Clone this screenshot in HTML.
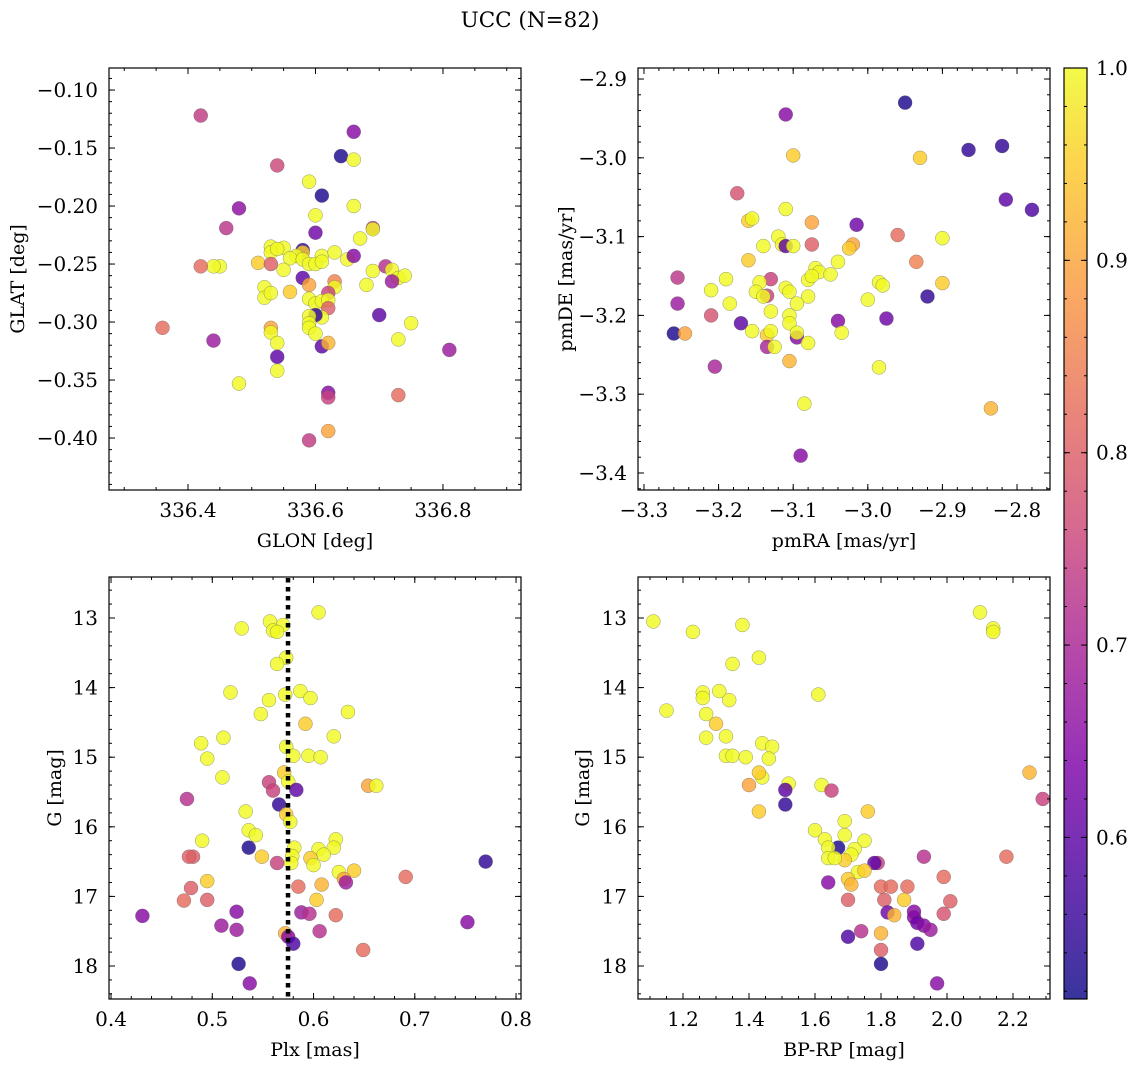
<!DOCTYPE html>
<html><head><meta charset="utf-8">
<style>
html,body{margin:0;padding:0;background:#fff;}
svg text{font-family:"DejaVu Serif","Liberation Serif",serif;fill:#000;}
</style></head>
<body>
<svg id="chart" width="1136" height="1067" viewBox="0 0 1136 1067" xmlns="http://www.w3.org/2000/svg">
<text x="530" y="27" font-size="21.5" text-anchor="middle">UCC (N=82)</text>
</svg>
<script>
// Panel 1: GLON, GLAT, probability
const p1Glon=[336.42,336.66,336.64,336.66,336.54,336.59,336.61,336.48,336.66,336.60,336.46,336.69,336.69,336.67,336.60,336.53,336.53,336.55,336.54,336.58,336.58,336.57,336.56,336.58,336.59,336.61,336.63,336.65,336.60,336.61,336.45,336.44,336.42,336.51,336.53,336.55,336.66,336.69,336.71,336.72,336.73,336.74,336.72,336.68,336.58,336.59,336.63,336.63,336.62,336.56,336.52,336.52,336.53,336.59,336.60,336.61,336.62,336.62,336.61,336.60,336.59,336.59,336.70,336.75,336.53,336.53,336.59,336.60,336.73,336.44,336.36,336.54,336.61,336.62,336.81,336.54,336.54,336.48,336.62,336.62,336.73,336.62,336.59];
const p1Glat=[-0.122,-0.136,-0.157,-0.160,-0.165,-0.179,-0.191,-0.202,-0.200,-0.208,-0.219,-0.219,-0.220,-0.228,-0.223,-0.235,-0.240,-0.236,-0.237,-0.238,-0.240,-0.243,-0.245,-0.246,-0.250,-0.243,-0.240,-0.246,-0.250,-0.248,-0.252,-0.252,-0.252,-0.249,-0.250,-0.255,-0.243,-0.256,-0.252,-0.255,-0.262,-0.260,-0.265,-0.268,-0.262,-0.268,-0.265,-0.270,-0.275,-0.274,-0.270,-0.279,-0.275,-0.280,-0.284,-0.282,-0.281,-0.288,-0.296,-0.294,-0.295,-0.301,-0.294,-0.301,-0.305,-0.309,-0.305,-0.310,-0.315,-0.316,-0.305,-0.318,-0.321,-0.318,-0.324,-0.330,-0.342,-0.353,-0.361,-0.365,-0.363,-0.394,-0.402];
const p1Prob=[.74,.65,.53,1,.76,1,.53,.66,1,1,.73,.73,1,1,.62,1,1,1,1,.55,.95,1,1,1,1,1,1,1,1,1,1,1,.82,.95,.8,1,.65,1,.72,1,1,1,.68,1,.6,.9,.85,1,.75,.95,1,1,1,1,1,1,1,.8,1,.55,1,1,.6,1,.9,1,1,1,1,.68,.82,1,.6,.92,.68,.6,1,1,.65,.75,.82,.9,.74];
// Panel 2: pmRA, pmDE, probability
const p2Pmra=[-2.95,-3.11,-2.865,-2.82,-3.10,-2.93,-3.175,-2.815,-2.78,-3.11,-3.16,-3.155,-3.075,-3.015,-2.96,-2.90,-3.12,-3.115,-3.11,-3.10,-3.14,-3.075,-3.02,-3.025,-3.16,-2.935,-3.04,-3.07,-3.065,-3.08,-3.075,-3.05,-3.255,-3.19,-3.13,-3.145,-2.985,-2.98,-2.90,-3.21,-3.15,-3.135,-3.11,-3.105,-3.14,-3.08,-3.00,-2.92,-3.255,-3.185,-3.095,-3.13,-3.17,-3.21,-3.105,-3.105,-3.04,-2.975,-3.155,-3.135,-3.13,-3.095,-3.095,-3.035,-3.26,-3.245,-3.08,-3.135,-3.125,-3.205,-3.105,-2.985,-3.085,-2.835,-3.09];
const p2Pmde=[-2.93,-2.945,-2.99,-2.985,-2.997,-3.00,-3.045,-3.053,-3.066,-3.065,-3.08,-3.077,-3.082,-3.085,-3.098,-3.102,-3.10,-3.11,-3.112,-3.112,-3.112,-3.11,-3.11,-3.115,-3.13,-3.132,-3.132,-3.14,-3.145,-3.155,-3.150,-3.148,-3.152,-3.154,-3.154,-3.158,-3.158,-3.162,-3.159,-3.168,-3.17,-3.175,-3.165,-3.170,-3.176,-3.176,-3.18,-3.176,-3.185,-3.185,-3.185,-3.195,-3.21,-3.20,-3.20,-3.21,-3.207,-3.204,-3.22,-3.225,-3.22,-3.228,-3.222,-3.222,-3.223,-3.223,-3.235,-3.24,-3.24,-3.265,-3.258,-3.266,-3.312,-3.318,-3.378];
const p2Prob=[.53,.65,.55,.55,.95,.95,.78,.6,.58,1,.95,1,.9,.62,.82,1,1,1,.6,1,1,.8,.9,.95,.95,.85,1,1,1,1,1,1,.73,1,.75,1,1,1,.95,1,1,.75,1,1,1,1,1,.55,.68,1,1,1,.6,.78,1,1,.65,.62,1,.95,1,.65,1,1,.53,.9,1,.7,1,.7,.92,1,1,.92,.65];
// Panel 3: Plx, G, probability
const p3Plx=[0.605,0.557,0.570,0.529,0.560,0.564,0.573,0.564,0.518,0.587,0.572,0.597,0.556,0.548,0.634,0.592,0.511,0.620,0.489,0.573,0.495,0.580,0.595,0.607,0.510,0.571,0.575,0.556,0.560,0.583,0.654,0.662,0.475,0.566,0.533,0.573,0.577,0.536,0.543,0.490,0.622,0.536,0.581,0.605,0.620,0.610,0.579,0.597,0.481,0.477,0.549,0.564,0.578,0.600,0.625,0.640,0.630,0.632,0.770,0.495,0.585,0.608,0.479,0.691,0.472,0.495,0.603,0.524,0.588,0.596,0.622,0.431,0.509,0.524,0.606,0.752,0.572,0.575,0.580,0.649,0.526,0.537];
const p3G=[12.92,13.05,13.10,13.15,13.18,13.20,13.57,13.66,14.07,14.05,14.10,14.15,14.18,14.38,14.35,14.52,14.72,14.70,14.80,14.85,15.02,14.98,14.98,15.00,15.29,15.22,15.35,15.36,15.48,15.47,15.41,15.41,15.60,15.68,15.78,15.82,15.93,16.05,16.12,16.20,16.18,16.30,16.30,16.32,16.30,16.40,16.42,16.45,16.43,16.43,16.43,16.52,16.52,16.55,16.65,16.63,16.75,16.80,16.50,16.78,16.86,16.83,16.88,16.72,17.06,17.05,17.05,17.22,17.23,17.25,17.27,17.28,17.42,17.48,17.50,17.37,17.53,17.58,17.68,17.77,17.97,18.25];
const p3Prob=[1,1,1,1,1,1,1,1,1,1,1,1,1,1,1,.95,1,1,1,1,1,1,1,1,1,.95,1,.75,.75,.6,.9,1,.72,.55,1,.95,1,1,1,1,1,.53,1,1,1,1,1,.95,.8,.8,.95,.75,1,1,1,.95,.9,.68,.55,.95,.82,.92,.8,.82,.82,.8,.95,.65,.68,.72,.82,.65,.68,.68,.72,.65,.92,.65,.58,.82,.53,.65];
const plxMedian=0.5748;
// Panel 4: BP-RP, G, probability
const p4Bprp=[1.11,1.23,1.38,2.10,2.14,2.14,1.43,1.35,1.15,1.26,1.26,1.31,1.34,1.61,1.27,1.30,1.27,1.33,1.44,1.47,1.33,1.35,1.39,1.46,1.44,1.43,1.52,1.40,1.51,1.62,1.65,2.25,2.29,1.51,1.43,1.76,1.69,1.60,1.69,1.63,1.75,1.67,1.64,1.72,1.71,1.64,1.69,1.66,1.79,1.78,1.93,2.18,1.73,1.75,1.70,1.64,1.71,1.80,1.88,1.83,1.99,1.87,1.70,1.81,2.01,1.82,1.90,1.90,1.99,1.84,1.91,1.93,1.95,1.74,1.70,1.80,1.80,1.91,1.80,1.97];
const p4G=[13.05,13.20,13.10,12.92,13.15,13.20,13.57,13.66,14.33,14.07,14.15,14.05,14.18,14.10,14.38,14.52,14.72,14.70,14.80,14.85,14.98,14.98,15.00,15.02,15.29,15.22,15.38,15.40,15.47,15.40,15.48,15.22,15.60,15.68,15.78,15.78,15.92,16.05,16.12,16.18,16.20,16.30,16.30,16.32,16.40,16.45,16.48,16.45,16.52,16.52,16.43,16.43,16.65,16.63,16.75,16.80,16.83,16.86,16.86,16.86,16.72,17.05,17.05,17.05,17.07,17.23,17.22,17.30,17.25,17.27,17.38,17.42,17.48,17.50,17.58,17.53,17.77,17.68,17.97,18.25];
const p4Prob=[1,1,1,1,1,1,1,1,1,1,1,1,1,1,1,.95,1,1,1,1,1,1,1,1,1,.95,1,.9,.6,1,.75,.92,.75,.55,.95,.95,1,1,1,1,1,.53,1,1,1,1,.95,1,.75,.6,.72,.82,1,.95,.95,.65,.92,.82,.82,.82,.82,.95,.8,.8,.8,.62,.65,.65,.78,.92,.62,.65,.68,.72,.58,.92,.8,.58,.53,.65];
// tick labels
const p1XTicks=[336.4,336.6,336.8];
const p1YTicks=[-0.10,-0.15,-0.20,-0.25,-0.30,-0.35,-0.40];
const p2XTicks=[-3.3,-3.2,-3.1,-3.0,-2.9,-2.8];
const p2YTicks=[-2.9,-3.0,-3.1,-3.2,-3.3,-3.4];
const p3XTicks=[0.4,0.5,0.6,0.7,0.8];
const gTicks=[13,14,15,16,17,18];
const p4XTicks=[1.2,1.4,1.6,1.8,2.0,2.2];
const cbTicks=[0.6,0.7,0.8,0.9,1.0];
const cbMin=0.516, cbMax=1.0;

const TF=20, LF=19;
const svg=document.getElementById('chart');
const NS='http://www.w3.org/2000/svg';
function mk(tag,attrs,parent){const e=document.createElementNS(NS,tag);for(const k in attrs)e.setAttribute(k,attrs[k]);(parent||svg).appendChild(e);return e;}
const stops=[[0,[13,8,135]],[0.13,[75,3,161]],[0.25,[125,3,168]],[0.38,[168,34,150]],[0.5,[203,70,121]],[0.63,[229,107,93]],[0.75,[248,148,65]],[0.88,[253,195,40]],[1,[240,249,33]]];
function plasma(t){t=Math.max(0,Math.min(1,t));for(let i=1;i<stops.length;i++){if(t<=stops[i][0]){const a=stops[i-1],b=stops[i];const f=(t-a[0])/(b[0]-a[0]);const c=a[1].map((v,j)=>Math.round(v+(b[1][j]-v)*f));return `rgb(${c[0]},${c[1]},${c[2]})`;}}return 'rgb(240,249,33)';}
function fmt(v,d){return (v<0?'\u2212':'')+Math.abs(v).toFixed(d);}

function panel(name,box,xd,yd,xs,ys,ps,xt,yt,xdec,ydec,xminor,yminor,xlabel,ylabel,lx){
  const g=mk('g',{});
  
  
  const X=v=>box.x0+(v-xd[0])/(xd[1]-xd[0])*(box.x1-box.x0);
  const Y=v=>box.y0+(v-yd[0])/(yd[1]-yd[0])*(box.y1-box.y0);
  for(let i=0;i<xs.length;i++){
    const c=mk('circle',{cx:X(xs[i]),cy:Y(ys[i]),r:7,fill:plasma((ps[i]-cbMin)/(cbMax-cbMin)),'fill-opacity':0.82,stroke:'#555','stroke-width':0.5,'stroke-opacity':0.6},g);
    
    
  }
  const fr=mk('rect',{x:box.x0,y:box.y0,width:box.x1-box.x0,height:box.y1-box.y0,fill:'none',stroke:'#000','stroke-width':1.2},g);
  
  
  const lo=Math.min(xd[0],xd[1]),hi=Math.max(xd[0],xd[1]);
  for(let v=Math.ceil(lo/xminor)*xminor;v<=hi;v+=xminor){const x=X(v);mk('line',{x1:x,x2:x,y1:box.y1,y2:box.y1-3,stroke:'#000','stroke-width':1},g);mk('line',{x1:x,x2:x,y1:box.y0,y2:box.y0+3,stroke:'#000','stroke-width':1},g);}
  const ylo=Math.min(yd[0],yd[1]),yhi=Math.max(yd[0],yd[1]);
  for(let v=Math.ceil(ylo/yminor)*yminor;v<=yhi;v+=yminor){const y=Y(v);mk('line',{x1:box.x0,x2:box.x0+3,y1:y,y2:y,stroke:'#000','stroke-width':1},g);mk('line',{x1:box.x1,x2:box.x1-3,y1:y,y2:y,stroke:'#000','stroke-width':1},g);}
  xt.forEach(v=>{const x=X(v);mk('line',{x1:x,x2:x,y1:box.y1,y2:box.y1-6,stroke:'#000','stroke-width':1},g);mk('line',{x1:x,x2:x,y1:box.y0,y2:box.y0+6,stroke:'#000','stroke-width':1},g);
    const t=mk('text',{x:x,y:box.y1+27,'font-size':TF,'text-anchor':'middle'},g);t.textContent=fmt(v,xdec);
    
    });
  yt.forEach(v=>{const y=Y(v);mk('line',{x1:box.x0,x2:box.x0+6,y1:y,y2:y,stroke:'#000','stroke-width':1},g);mk('line',{x1:box.x1,x2:box.x1-6,y1:y,y2:y,stroke:'#000','stroke-width':1},g);
    const t=mk('text',{x:box.x0-11,y:y+7,'font-size':TF,'text-anchor':'end'},g);t.textContent=fmt(v,ydec);
    
    });
  const xl=mk('text',{x:(box.x0+box.x1)/2,y:box.y1+57,'font-size':LF,'text-anchor':'middle'},g);xl.textContent=xlabel;
  
  
  const cy=(box.y0+box.y1)/2;
  const yl=mk('text',{x:lx,y:cy,'font-size':LF,'text-anchor':'middle',transform:`rotate(-90 ${lx} ${cy})`},g);yl.textContent=ylabel;
  
  
  return {X,Y,g};
}
panel('panel-glon-glat',{x0:109,x1:521,y0:68,y1:490},[336.2761,336.9224],[-0.0810,-0.4448],p1Glon,p1Glat,p1Prob,p1XTicks,p1YTicks,1,2,0.05,0.01,'GLON [deg]','GLAT [deg]',24);
panel('panel-pm',{x0:638,x1:1050,y0:68,y1:490},[-3.308,-2.7558],[-2.886,-3.4216],p2Pmra,p2Pmde,p2Prob,p2XTicks,p2YTicks,1,1,0.02,0.02,'pmRA [mas/yr]','pmDE [mas/yr]',572);
const p3=panel('panel-plx-g',{x0:109,x1:521,y0:577,y1:999},[0.398,0.8049],[12.411,18.474],p3Plx,p3G,p3Prob,p3XTicks,gTicks,1,0,0.02,0.2,'Plx [mas]','G [mag]',61);
const ml=mk('line',{x1:p3.X(plxMedian),x2:p3.X(plxMedian),y1:578,y2:998,stroke:'#000','stroke-width':4.5,'stroke-dasharray':'4.5 4.5'},p3.g);


panel('panel-cmd',{x0:638,x1:1050,y0:577,y1:999},[1.0636,2.3121],[12.411,18.474],p4Bprp,p4G,p4Prob,p4XTicks,gTicks,1,0,0.05,0.2,'BP-RP [mag]','G [mag]',589);

// colorbar
const cb=mk('g',{});


const defs=mk('defs',{});
const lg=mk('linearGradient',{id:'cbg',x1:0,y1:1,x2:0,y2:0},defs);
for(let i=0;i<=20;i++){mk('stop',{offset:i/20,'stop-color':plasma(i/20),'stop-opacity':0.82},lg);}
const cy0=68,cy1=999,CY=v=>cy1-(v-cbMin)/(cbMax-cbMin)*(cy1-cy0);
mk('rect',{x:1064,y:cy0,width:23,height:cy1-cy0,fill:'url(#cbg)',stroke:'#000','stroke-width':1.2},cb);
for(let v=0.52;v<=1.0001;v+=0.02){const y=CY(v);mk('line',{x1:1087,x2:1084,y1:y,y2:y,stroke:'#000','stroke-width':1},cb);mk('line',{x1:1064,x2:1067,y1:y,y2:y,stroke:'#000','stroke-width':1},cb);}
cbTicks.forEach(v=>{const y=CY(v);mk('line',{x1:1087,x2:1081,y1:y,y2:y,stroke:'#000','stroke-width':1},cb);mk('line',{x1:1064,x2:1070,y1:y,y2:y,stroke:'#000','stroke-width':1},cb);
  const t=mk('text',{x:1096,y:y+7,'font-size':TF},cb);t.textContent=v.toFixed(1);
  
  });
</script>
</body></html>
